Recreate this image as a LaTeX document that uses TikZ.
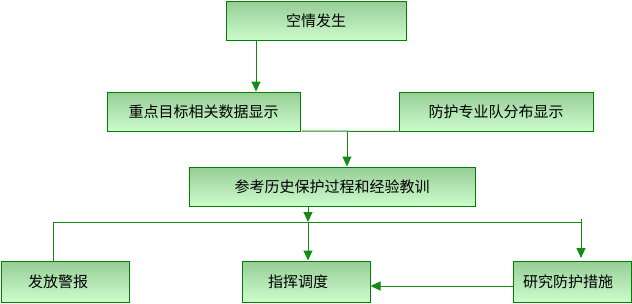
\documentclass[tikz,border=0pt]{standalone}
\usepackage{fontspec}
\newfontfamily\cjk{Noto Sans CJK SC}
\usetikzlibrary{arrows.meta,calc}
\definecolor{bordergreen}{RGB}{0,128,0}
\definecolor{linegreen}{RGB}{20,140,20}
\definecolor{topfill}{RGB}{150,205,150}
\definecolor{botfill}{RGB}{205,252,205}
\tikzset{
  box/.style={draw=bordergreen, line width=1pt, top color=topfill, bottom color=botfill,
    minimum height=39pt, inner sep=0pt, font=\cjk\fontsize{15pt}{17pt}\selectfont, text=black},
  conn/.style={draw=linegreen, line width=1pt},
  arr/.style={conn, -{Triangle[length=10pt,width=9pt]}},
}
\begin{document}
\begin{tikzpicture}[x=1pt,y=-1pt]
\useasboundingbox (0,0) rectangle (632,303);
\node[box, minimum width=180pt] (kq) at (316,21) {空情发生};
\node[box, minimum width=193pt] (zd) at (203.5,111.5) {重点目标相关数据显示};
\node[box, minimum width=194pt] (fh) at (496,111.5) {防护专业队分布显示};
\node[box, minimum width=286pt] (ck) at (332,186.5) {参考历史保护过程和经验教训};
\node[box, minimum width=128pt, minimum height=41pt] (ff) at (65,281.5) {\hspace*{-14pt}发放警报};
\node[box, minimum width=128pt, minimum height=41pt] (zh) at (306,281.5) {\hspace*{-16pt}指挥调度};
\node[box, minimum width=118pt, minimum height=41pt] (yj) at (572,281.5) {\hspace*{-8pt}研究防护措施};
% connectors
\draw[arr] (kq.south -| 256,0) -- (zd.north -| 256,0);
\coordinate (jA) at (302,131);
\coordinate (jB) at (347,131);
\draw[conn] (jA) -- (fh.south west);
\draw[arr] (jB) -- (ck.north -| jB);
\coordinate (hL) at (53,222);
\coordinate (hM) at (308,222);
\coordinate (hR) at (581,222);
\coordinate (hRt) at (581,219);
\coordinate (hRe) at (581,258);
\draw[arr] (ck.south -| hM) -- (hM);
\draw[conn] (ff.north -| hL) -- (hL) -- (hR);
\draw[arr] (hM) -- (zh.north -| hM);
\draw[arr] (hRt) -- (hRe);
\draw[arr] (yj.west |- 0,286) -- (zh.east |- 0,286);
\end{tikzpicture}
\end{document}
